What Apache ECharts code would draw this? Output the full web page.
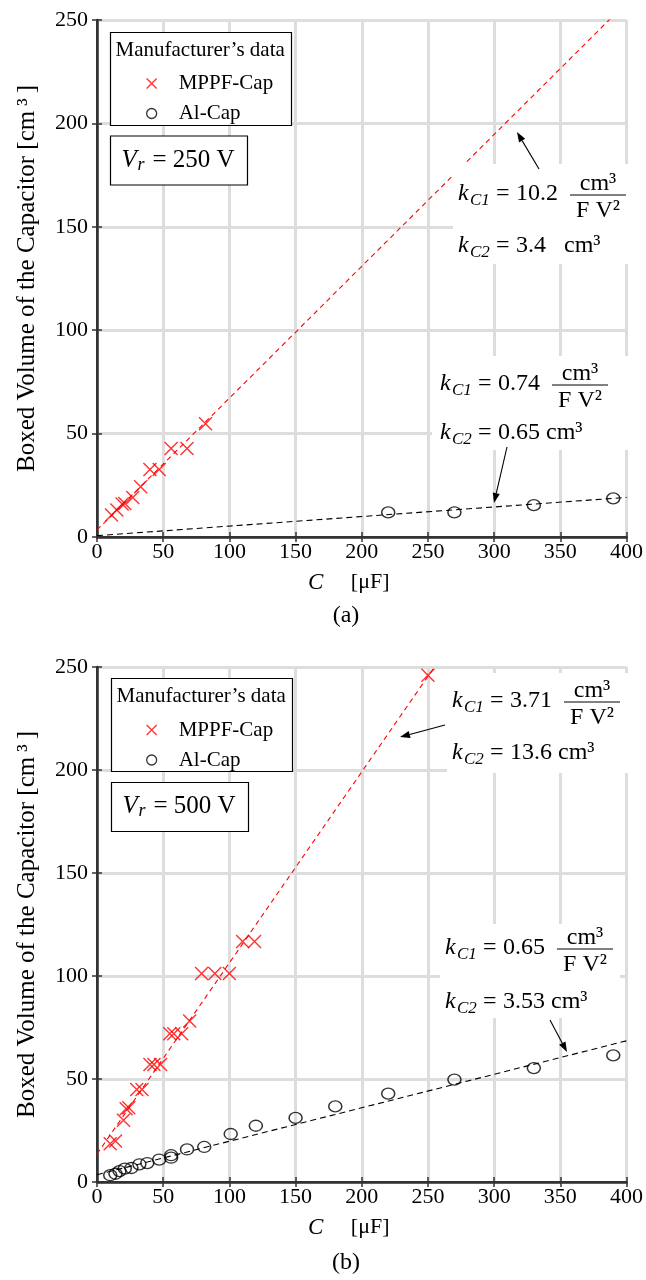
<!DOCTYPE html>
<html><head><meta charset="utf-8">
<script src="https://cdn.jsdelivr.net/npm/echarts@6/dist/echarts.min.js"></script>
<style>html,body{margin:0;padding:0;background:#fff}#c{width:646px;height:1280px}</style>
</head><body><div id="c"></div>
<script>
// ---------- data ----------
const xTickInterval = 50;      // C [µF]
const yTickInterval = 50;      // volume [cm3]
const xMax = 400, yMax = 250;

// panel (a): Vr = 250 V
const VrA = 250;
const mppfA_C = [11, 15, 19, 21, 27, 33, 40, 47, 56, 68, 82];
const mppfA_V = [10.6, 13, 15.9, 16.2, 19.1, 24.3, 32.6, 32.6, 42.8, 42.8, 54.8];
const alA_C = [220, 270, 330, 390];
const alA_V = [11.9, 11.9, 15.4, 18.7];
const kC1_A = [10.2, 0.74];   // MPPF, Al  [cm3/(F V^2)]
const kC2_A = [3.4, 0.65];    // MPPF, Al  [cm3]

// panel (b): Vr = 500 V
const VrB = 500;
const mppfB_C = [10, 14, 20, 22, 24, 30, 34, 40, 43, 48, 55, 58, 64, 70, 79, 89, 100, 110, 119, 250];
const mppfB_V = [18.6, 19.9, 30, 35.6, 36.1, 44.9, 44.9, 57, 57, 57, 72, 72, 72, 78.2, 101.2, 101.2, 101.2, 116.8, 116.8, 246];
const alB_C = [10, 14, 17, 21, 26, 32, 38, 47, 56, 56, 68, 81, 101, 120, 150, 180, 220, 270, 330, 390];
const alB_V = [3.3, 4, 5.3, 6.5, 6.8, 8.6, 9.2, 10.9, 11.8, 13, 15.8, 17, 23.3, 27.3, 31.1, 36.7, 42.9, 49.7, 55.3, 61.5];
const kC1_B = [3.71, 0.65];
const kC2_B = [13.6, 3.53];

// ---------- helpers ----------
const zip = (a, b) => a.map((v, i) => [v, b[i]]);
const fitLine = (k1, k2, Vr) => [[0, k2], [xMax, k1 * Vr * Vr * 1e-6 * xMax + k2]];
const FF = '"Liberation Serif","Times New Roman",serif';
const crossPath = 'path://M0,0L10,10M10,0L0,10';

function T(x, base, str, size, italic, align) {
  return { type: 'text', x: x, y: base - 0.32 * size, z: 200,
    style: { text: str, fontSize: size, fontFamily: FF, fontStyle: italic ? 'italic' : 'normal',
             fill: '#000', align: align || 'left', verticalAlign: 'middle' } };
}
function R(x, y, w, h, stroke) {
  return { type: 'rect', z: stroke ? 120 : 90, shape: { x: x, y: y, width: w, height: h },
    style: { fill: '#fff', stroke: stroke ? '#000' : null, lineWidth: 1.2 } };
}
function arrow(x1, y1, x2, y2) {
  const dx = x2 - x1, dy = y2 - y1, L = Math.hypot(dx, dy), ux = dx / L, uy = dy / L;
  const hl = 10, hw = 3.6;
  const bx = x2 - ux * hl, by = y2 - uy * hl;
  return [
    { type: 'line', z: 200, shape: { x1: x1, y1: y1, x2: bx, y2: by }, style: { stroke: '#000', lineWidth: 1.1 } },
    { type: 'polygon', z: 200, shape: { points: [[x2, y2], [bx - uy * hw, by + ux * hw], [bx + uy * hw, by - ux * hw]] }, style: { fill: '#000' } }
  ];
}
// k_C1 = a  cm3/(F V^2) ;  k_C2 = b cm3
function kBlock(x0, base1, base2, v1, v2, fracLeft, bg) {
  const f = 24, fs = 17, fw = 56;
  const fl = fracLeft, fc = fl + fw / 2, bar = base1 - 6;
  return [
    R(bg[0], bg[1], bg[2], bg[3], false),
    T(x0, base1, 'k', f, true), T(x0 + 12, base1 + 5, 'C1', fs, true),
    T(x0 + 38, base1, '=', f), T(x0 + 58, base1, v1, f),
    T(fc, bar - 4, 'cm³', f, false, 'center'),
    { type: 'line', z: 200, shape: { x1: fl, y1: bar, x2: fl + fw, y2: bar }, style: { stroke: '#000', lineWidth: 1 } },
    T(fc, bar + 23, 'F V²', f, false, 'center'),
    T(x0, base2, 'k', f, true), T(x0 + 12, base2 + 5, 'C2', fs, true),
    T(x0 + 38, base2, '=', f), T(x0 + 58, base2, v2, f)
  ];
}
function legendBox(x, y) {
  return [ R(x, y, 181, 93, true), T(x + 5, y + 25, 'Manufacturer’s data', 21) ];
}
function vrBox(x, y, v) {
  return [ R(x, y, 137, 49, true), T(x + 11, y + 32, 'V', 25, true), T(x + 27, y + 35, 'r', 18, true),
           T(x + 42, y + 32, '= ' + v + ' V', 25) ];
}

// ---------- axes ----------
const grids = [
  { left: 97, top: 20, width: 538, height: 517 },
  { left: 97, top: 667, width: 537, height: 515 }
];
function xMain(gi) {
  return { type: 'value', gridIndex: gi, min: 0, max: xMax, interval: xTickInterval, position: 'bottom',
    axisLine: { show: true, lineStyle: { color: '#333', width: 2.5 } },
    axisTick: { show: true, inside: true, length: 5, lineStyle: { color: '#333', width: 1.5 } },
    axisLabel: { color: '#000', fontSize: 22, fontFamily: FF, margin: 4 },
    splitLine: { show: true, lineStyle: { color: '#dddddd', width: 3 } },
    name: '{i|C}     [μF]', nameLocation: 'middle', nameGap: 34,
    nameTextStyle: { color: '#000', fontSize: 22, fontFamily: FF, padding: [0, 26, 0, 0],
      rich: { i: { fontStyle: 'italic', fontSize: 23, fontFamily: FF, color: '#000' } } } };
}
function xTop(gi) {
  return { type: 'value', gridIndex: gi, min: 0, max: xMax, interval: xTickInterval, position: 'top',
    axisLine: { show: true, lineStyle: { color: '#333', width: 2 } },
    axisTick: { show: true, inside: true, length: 5, lineStyle: { color: '#333', width: 1.5 } },
    axisLabel: { show: false }, splitLine: { show: false } };
}
function yMain(gi) {
  return { type: 'value', gridIndex: gi, min: 0, max: yMax, interval: yTickInterval, position: 'left',
    axisLine: { show: true, lineStyle: { color: '#333', width: 2.5 } },
    axisTick: { show: true, inside: true, length: 5, lineStyle: { color: '#333', width: 1.5 } },
    axisLabel: { color: '#000', fontSize: 22, fontFamily: FF, margin: 9 },
    splitLine: { show: true, lineStyle: { color: '#dddddd', width: 3 } },
    name: 'Boxed Volume of the Capacitor [cm\u2009³\u2009]', nameLocation: 'middle', nameRotate: 90, nameGap: 57,
    nameTextStyle: { color: '#000', fontSize: 25, fontFamily: FF } };
}
function yRight(gi) {
  return { type: 'value', gridIndex: gi, min: 0, max: yMax, interval: yTickInterval, position: 'right',
    axisLine: { show: true, lineStyle: { color: '#333', width: 2 } },
    axisTick: { show: true, inside: true, length: 5, lineStyle: { color: '#333', width: 1.5 } },
    axisLabel: { show: false }, splitLine: { show: false } };
}

const crossStyle = { color: 'rgba(0,0,0,0)', borderColor: '#ff0000', borderWidth: 1.4 };
const circStyle = { color: 'rgba(255,255,255,0)', borderColor: '#000', borderWidth: 1.4 };
function seriesFor(xi, yi, mC, mV, aC, aV, k1, k2, Vr) {
  return [
    { type: 'line', name: 'fitM', xAxisIndex: xi, yAxisIndex: yi, data: fitLine(k1[0], k2[0], Vr), symbol: 'none',
      lineStyle: { color: '#ff0000', width: 1.1, type: [5, 4] }, z: 3, silent: true },
    { type: 'line', name: 'fitA', xAxisIndex: xi, yAxisIndex: yi, data: fitLine(k1[1], k2[1], Vr), symbol: 'none',
      lineStyle: { color: '#000', width: 1.1, type: [6, 4] }, z: 3, silent: true },
    { type: 'scatter', name: 'MPPF-Cap', xAxisIndex: xi, yAxisIndex: yi, data: zip(mC, mV),
      symbol: crossPath, symbolSize: 13, itemStyle: crossStyle, z: 5 },
    { type: 'scatter', name: 'Al-Cap', xAxisIndex: xi, yAxisIndex: yi, data: zip(aC, aV),
      symbol: 'circle', symbolSize: [13, 11], itemStyle: circStyle, z: 5 }
  ];
}
function legendAt(top) {
  return { show: true, orient: 'vertical', left: 141, top: top, z: 300, itemWidth: 10, itemHeight: 10, itemGap: 9,
    selectedMode: false,
    textStyle: { fontSize: 21, fontFamily: FF, color: '#000', padding: [0, 0, 0, 17] },
    data: [
      { name: 'MPPF-Cap', icon: crossPath, itemStyle: { color: 'rgba(0,0,0,0)', borderColor: '#ff0000', borderWidth: 1.3 } },
      { name: 'Al-Cap', icon: 'circle', itemStyle: { color: '#fff', borderColor: '#000', borderWidth: 1.3 } }
    ] };
}

const graphics = [].concat(
  legendBox(110.5, 32.5), vrBox(110.5, 136, '250'),
  legendBox(111.5, 678.5), vrBox(111.5, 782.5, '500'),
  kBlock(458, 201, 253, '10.2', '3.4   cm³', 570, [453, 164, 178, 100]),
  kBlock(440, 391, 440, '0.74', '0.65 cm³', 552, [432, 356, 196, 94]),
  kBlock(452, 708, 760, '3.71', '13.6 cm³', 564, [447, 673, 183, 100]),
  kBlock(445, 955, 1009, '0.65', '3.53 cm³', 557, [440, 924, 180, 94]),
  arrow(539, 169, 517, 132), arrow(507, 447, 494, 503),
  arrow(445, 725, 400, 737), arrow(550, 1020, 567, 1052),
  [T(346, 623, '(a)', 24, false, 'center'), T(346, 1270, '(b)', 24, false, 'center')]
);

const chart = echarts.init(document.getElementById('c'), null, { renderer: 'canvas' });
chart.setOption({
  backgroundColor: '#fff',
  animation: false,
  textStyle: { fontFamily: FF },
  grid: grids,
  xAxis: [xMain(0), xTop(0), xMain(1), xTop(1)],
  yAxis: [yMain(0), yRight(0), yMain(1), yRight(1)],
  legend: [legendAt(68), legendAt(714.5)],
  series: [].concat(
    seriesFor(0, 0, mppfA_C, mppfA_V, alA_C, alA_V, kC1_A, kC2_A, VrA),
    seriesFor(2, 2, mppfB_C, mppfB_V, alB_C, alB_V, kC1_B, kC2_B, VrB)
  ),
  graphic: { elements: graphics }
});
</script></body></html>
